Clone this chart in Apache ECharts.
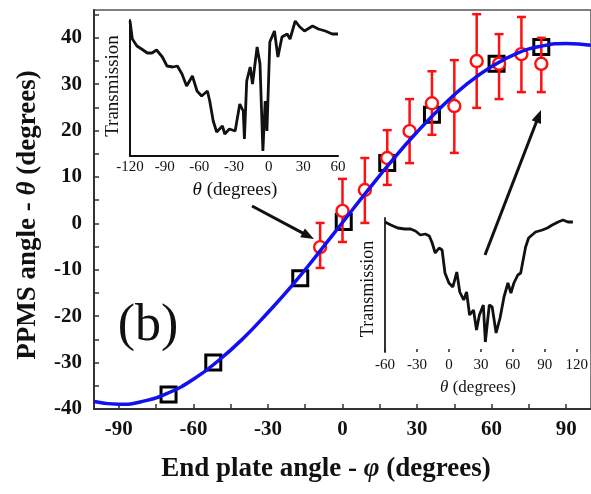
<!DOCTYPE html>
<html><head><meta charset="utf-8">
<script src="https://cdn.jsdelivr.net/npm/echarts@6/dist/echarts.min.js"></script>
<style>html,body{margin:0;padding:0;background:#fff}#c{width:591px;height:494px}</style>
</head><body><div id="c"></div>
<script>
// ---- main plot data ----
const xTickLabels = [-90, -60, -30, 0, 30, 60, 90];
const yTickLabels = [-40, -30, -20, -10, 0, 10, 20, 30, 40];
const squarePhi   = [-70, -52, -17, 0.5, 18, 36, 62, 80];
const squareTheta = [-36.9, -30.0, -11.8, 0.3, 13.0, 23.4, 34.4, 38.0];
const circlePhi   = [-9, 0, 9, 18, 27, 36, 45, 54, 63, 72, 80];
const circleTheta = [-5.1, 2.7, 7.2, 14.1, 19.9, 25.9, 25.3, 35.0, 34.4, 36.5, 34.4];
const circleLow   = [-9.6, -4.0, 0.1, 8.3, 13.0, 19.1, 15.2, 24.9, 26.8, 28.3, 28.3];
const circleHigh  = [0.1, 9.6, 14.1, 20.1, 26.8, 32.8, 35.2, 45.1, 40.8, 44.5, 40.0];
const fitPhi   = [-100, -90, -80, -70, -60, -50, -40, -30, -20, -10, 0, 10, 20, 30, 40, 50, 60, 70, 80, 90, 100];
const fitTheta = [-38.4, -39.0, -38.3, -36.5, -33.6, -29.6, -24.8, -19.2, -13.2, -6.6, 0.2, 7.0, 13.6, 19.7, 25.2, 30.0, 33.8, 36.6, 38.2, 38.8, 38.4];
// ---- inset 1 (top left) ----
const inset1Ticks = [-120, -90, -60, -30, 0, 30, 60];
const inset1Theta = [-120,-118,-114,-110,-105,-101,-97,-92,-88,-83,-79,-75,-71,-66,-62,-58,-53,-51,-48,-45,-40,-38,-34,-29,-25,-22,-21,-19,-16,-14,-10,-7.5,-5,-3,-1.5,1,5,8,11.5,16,18.5,23,27,31,38,43,49,55,60];
const inset1T     = [135,117,110,107,103,103,106,99,90,89,90,82,70,80,65,60,65,55,35,24,30,22,27,25,52,45,17,75,89,72,109,92,5,55,25,114,125,99,119,122,117,135,129,125,130,127,125,122,122];
// ---- inset 2 (bottom right) ----
const inset2Ticks = [-60, -30, 0, 30, 60, 90, 120];
const inset2Theta = [-60,-54.5,-48,-41.5,-36,-31.4,-26.8,-22.1,-18.4,-15.7,-12.9,-9.2,-6.4,-3.7,0,3.7,7.4,10.2,13.9,16.6,19.4,23.1,25.9,28.6,32.3,34.2,37.9,40.6,44.3,48,51.7,55.4,58.2,61,64.7,67.4,69.3,72,74.8,81.3,87.7,92.4,97,102.5,107.1,111.7,116.4];
const inset2T     = [130,127,124,123,123,121,117,118,116,109,99,104,102,79,69,65,80,60,52,60,37,42,22,37,47,10,47,45,19,34,55,69,59,69,77,79,90,105,114,120,122,124,127,130,132,130,130];

const SERIF = '"Liberation Serif", "DejaVu Serif", serif';
const zip = (a, b) => a.map((v, i) => [v, b[i]]);
const xMinorTicks = [-90,-75,-60,-45,-30,-15,0,15,30,45,60,75,90];
const yMinorTicks = [-40,-35,-30,-25,-20,-15,-10,-5,0,5,10,15,20,25,30,35,40,45];

function arrow(x1, y1, x2, y2) {
  const dx = x2 - x1, dy = y2 - y1, L = Math.hypot(dx, dy);
  const ux = dx / L, uy = dy / L, hl = 13, hw = 5;
  const bx = x2 - ux * hl, by = y2 - uy * hl;
  return [
    { type: 'line', shape: { x1, y1, x2: bx + ux * 2, y2: by + uy * 2 }, style: { stroke: '#111', lineWidth: 3 }, z: 50 },
    { type: 'polygon', shape: { points: [[x2, y2], [bx - uy * hw, by + ux * hw], [bx + uy * hw, by - ux * hw]] }, style: { fill: '#111' }, z: 50 }
  ];
}

const chart = echarts.init(document.getElementById('c'));
const axisLineStyle = { color: '#333', width: 2 };
chart.setOption({
  animation: false,
  backgroundColor: '#fff',
  grid: [
    { left: 94, top: 10, width: 498, height: 399, show: true, borderColor: '#555', borderWidth: 1.5 },
    { left: 130, top: 20, width: 208, height: 136 },
    { left: 385, top: 218, width: 195, height: 134 }
  ],
  xAxis: [
    { type: 'value', gridIndex: 0, min: -100, max: 100,
      axisLine: { onZero: false, lineStyle: axisLineStyle },
      axisTick: { inside: true, length: 5, customValues: xMinorTicks, lineStyle: { color: '#333', width: 1.5 } },
      axisLabel: { customValues: xTickLabels, fontFamily: SERIF, fontWeight: 'bold', fontSize: 21, color: '#111', margin: 10 },
      splitLine: { show: false } },
    { type: 'value', gridIndex: 1, min: -120, max: 60,
      axisLine: { onZero: false, lineStyle: { color: '#111', width: 2 } },
      axisTick: { show: false },
      axisLabel: { customValues: inset1Ticks, fontFamily: SERIF, fontSize: 15, color: '#111', margin: 4 },
      splitLine: { show: false } },
    { type: 'value', gridIndex: 2, min: -60, max: 120,
      axisLine: { show: false, onZero: false },
      axisTick: { show: true, inside: true, length: 3, customValues: inset2Ticks, lineStyle: { color: '#222', width: 1.5 } },
      axisLabel: { customValues: inset2Ticks, fontFamily: SERIF, fontSize: 15, color: '#111', margin: 6 },
      splitLine: { show: false } }
  ],
  yAxis: [
    { type: 'value', gridIndex: 0, min: -40, max: 46,
      axisLine: { onZero: false, lineStyle: axisLineStyle },
      axisTick: { inside: true, length: 5, customValues: yMinorTicks, lineStyle: { color: '#333', width: 1.5 } },
      axisLabel: { customValues: yTickLabels, fontFamily: SERIF, fontWeight: 'bold', fontSize: 21, color: '#111', margin: 12 },
      splitLine: { show: false } },
    { type: 'value', gridIndex: 1, min: 0, max: 136,
      axisLine: { onZero: false, lineStyle: { color: '#111', width: 2 } },
      axisTick: { show: false }, axisLabel: { show: false }, splitLine: { show: false } },
    { type: 'value', gridIndex: 2, min: 0, max: 134,
      axisLine: { onZero: false, lineStyle: { color: '#333', width: 2 } },
      axisTick: { show: false }, axisLabel: { show: false }, splitLine: { show: false } }
  ],
  series: [
    { type: 'scatter', xAxisIndex: 0, yAxisIndex: 0, symbol: 'rect', symbolSize: 15,
      itemStyle: { color: 'rgba(0,0,0,0)', borderColor: '#000', borderWidth: 3, opacity: 1 },
      data: zip(squarePhi, squareTheta), z: 3 },
    { type: 'custom', xAxisIndex: 0, yAxisIndex: 0, z: 4,
      data: circlePhi.map((p, i) => [p, circleLow[i], circleHigh[i]]),
      encode: { x: 0, y: [1, 2] },
      renderItem: (params, api) => {
        const x = api.value(0);
        const p1 = api.coord([x, api.value(2)]), p2 = api.coord([x, api.value(1)]);
        const w = 4.5, st = { stroke: '#ff1010', lineWidth: 2.5 };
        return { type: 'group', children: [
          { type: 'line', shape: { x1: p1[0], y1: p1[1], x2: p2[0], y2: p2[1] }, style: st },
          { type: 'line', shape: { x1: p1[0] - w, y1: p1[1], x2: p1[0] + w, y2: p1[1] }, style: st },
          { type: 'line', shape: { x1: p2[0] - w, y1: p2[1], x2: p2[0] + w, y2: p2[1] }, style: st }
        ]};
      } },
    { type: 'scatter', xAxisIndex: 0, yAxisIndex: 0, symbol: 'circle', symbolSize: 12,
      itemStyle: { color: '#fff', borderColor: '#ff1010', borderWidth: 2.4, opacity: 1 },
      data: zip(circlePhi, circleTheta), z: 5 },
    { type: 'line', xAxisIndex: 0, yAxisIndex: 0, smooth: true, symbol: 'none',
      lineStyle: { color: '#1010f0', width: 3.5 }, data: zip(fitPhi, fitTheta), z: 6 },
    { type: 'line', xAxisIndex: 1, yAxisIndex: 1, symbol: 'none',
      lineStyle: { color: '#111', width: 2.8 }, data: zip(inset1Theta, inset1T), z: 7 },
    { type: 'line', xAxisIndex: 2, yAxisIndex: 2, symbol: 'none',
      lineStyle: { color: '#111', width: 2.8 }, data: zip(inset2Theta, inset2T), z: 7 }
  ],
  graphic: [
    { type: 'text', x: 148, y: 326, z: 40, style: { text: '(b)', font: 'normal 52px ' + SERIF, fill: '#111', align: 'center', verticalAlign: 'middle' } },
    { type: 'text', x: 28, y: 215, rotation: Math.PI / 2, z: 40,
      style: { text: '{a|PPMS angle - }{i|θ}{a| (degrees)}', align: 'center', verticalAlign: 'middle',
        rich: { a: { fontFamily: SERIF, fontWeight: 'bold', fontSize: 27, fill: '#111' },
                i: { fontFamily: SERIF, fontWeight: 'bold', fontStyle: 'italic', fontSize: 27, fill: '#111' } } } },
    { type: 'text', x: 326, y: 469, z: 40,
      style: { text: '{a|End plate angle - }{i|φ}{a| (degrees)}', align: 'center', verticalAlign: 'middle',
        rich: { a: { fontFamily: SERIF, fontWeight: 'bold', fontSize: 27, fill: '#111' },
                i: { fontFamily: SERIF, fontWeight: 'bold', fontStyle: 'italic', fontSize: 27, fill: '#111' } } } },
    { type: 'text', x: 113, y: 86, rotation: Math.PI / 2, z: 40,
      style: { text: 'Transmission', font: 'normal 19px ' + SERIF, fill: '#111', align: 'center', verticalAlign: 'middle' } },
    { type: 'text', x: 235, y: 190, z: 40,
      style: { text: '{i|θ}{a| (degrees)}', align: 'center', verticalAlign: 'middle',
        rich: { a: { fontFamily: SERIF, fontSize: 19, fill: '#111' }, i: { fontFamily: SERIF, fontStyle: 'italic', fontSize: 19, fill: '#111' } } } },
    { type: 'text', x: 368, y: 289, rotation: Math.PI / 2, z: 40,
      style: { text: 'Transmission', font: 'normal 18px ' + SERIF, fill: '#111', align: 'center', verticalAlign: 'middle' } },
    { type: 'text', x: 478, y: 388, z: 40,
      style: { text: '{i|θ}{a| (degrees)}', align: 'center', verticalAlign: 'middle',
        rich: { a: { fontFamily: SERIF, fontSize: 17, fill: '#111' }, i: { fontFamily: SERIF, fontStyle: 'italic', fontSize: 17, fill: '#111' } } } },
    ...arrow(252, 206, 314, 239),
    ...arrow(485, 255, 541, 110)
  ]
});
</script></body></html>
